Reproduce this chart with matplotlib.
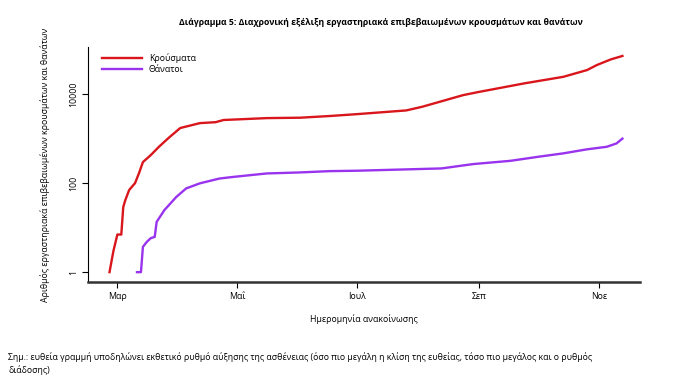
import matplotlib.pyplot as plt
import pandas as pd

# Κρούσματα (σωρευτικά)
cases_dates = ['2020-02-26', '2020-02-28', '2020-03-01', '2020-03-03', '2020-03-04',
               '2020-03-05', '2020-03-07', '2020-03-10', '2020-03-12', '2020-03-14',
               '2020-03-18', '2020-03-22', '2020-03-27', '2020-04-02', '2020-04-12',
               '2020-04-20', '2020-04-24', '2020-05-16', '2020-06-02', '2020-06-17',
               '2020-07-01', '2020-07-26', '2020-08-03', '2020-08-24', '2020-09-01',
               '2020-09-24', '2020-10-14', '2020-10-26', '2020-10-31', '2020-11-07',
               '2020-11-13']
cases = [1, 3, 7, 7, 29, 41, 70, 100, 167, 297, 426, 645, 1030, 1730, 2230,
         2340, 2620, 2890, 2950, 3220, 3550, 4300, 5180, 9500, 11200, 17400,
         24500, 34700, 45000, 60000, 72000]

# Θάνατοι (σωρευτικά)
deaths_dates = ['2020-03-11', '2020-03-13', '2020-03-14', '2020-03-16', '2020-03-18',
                '2020-03-20', '2020-03-21', '2020-03-25', '2020-03-31', '2020-04-05',
                '2020-04-12', '2020-04-22', '2020-04-29', '2020-05-16', '2020-06-02',
                '2020-06-17', '2020-07-01', '2020-08-13', '2020-08-29', '2020-09-17',
                '2020-10-01', '2020-10-14', '2020-10-26', '2020-11-05', '2020-11-10',
                '2020-11-13']
deaths = [1, 1, 3.7, 4.8, 5.8, 6.2, 13.5, 25, 49, 76, 99, 127, 138, 165, 174,
          186, 190, 214, 268, 317, 390, 467, 575, 655, 780, 1000]

plt.rcParams['font.family'] = ['Open Sans', 'DejaVu Sans']

fig = plt.figure(figsize=(6.92, 3.89), dpi=100)
ax = fig.add_axes([0.127, 0.275, 0.798, 0.604])

ax.plot(pd.to_datetime(cases_dates), cases, color='#d9161c', lw=1.7, label='Κρούσματα')
ax.plot(pd.to_datetime(deaths_dates), deaths, color='#9933ee', lw=1.7, label='Θάνατοι')

ax.set_yscale('log')
ax.set_ylim(0.6, 114000)
ax.set_yticks([1, 100, 10000])
ax.set_yticklabels(['1', '100', '10000'], rotation=90, va='center', fontsize=6.3)
ax.minorticks_off()
ax.set_xlim(pd.Timestamp('2020-02-15'), pd.Timestamp('2020-11-22'))
ax.set_xticks(pd.to_datetime(['2020-03-01', '2020-05-01', '2020-07-01',
                              '2020-09-01', '2020-11-01']))
ax.set_xticklabels(['Μαρ', 'Μαΐ', 'Ιουλ', 'Σεπ', 'Νοε'], fontsize=6.3)

for s in ['top', 'right']:
    ax.spines[s].set_visible(False)
ax.spines['bottom'].set_linewidth(1.8)
ax.spines['bottom'].set_color('#333333')
ax.spines['left'].set_linewidth(0.8)
ax.tick_params(length=4, width=0.8, pad=3)

ax.set_xlabel('Ημερομηνία ανακοίνωσης', fontsize=6.3, labelpad=10)
ax.set_ylabel('Αριθμός εργαστηριακά επιβεβαιωμένων κρουσμάτων και θανάτων',
              fontsize=6.3, labelpad=14)
ax.legend(loc='upper left', frameon=False, fontsize=6.3, handlelength=4.5,
          borderaxespad=0.3, labelspacing=0.2, bbox_to_anchor=(0.015, 1.0))

fig.text(0.55, 0.935, 'Διάγραμμα 5: Διαχρονική εξέλιξη εργαστηριακά επιβεβαιωμένων κρουσμάτων και θανάτων',
         ha='center', fontsize=6.2, fontweight='bold')
fig.text(0.012, 0.04, 'Σημ.: ευθεία γραμμή υποδηλώνει εκθετικό ρυθμό αύξησης της ασθένειας '
         '(όσο πιο μεγάλη η κλίση της ευθείας, τόσο πιο μεγάλος και ο ρυθμός\nδιάδοσης)',
         fontsize=6.3, linespacing=1.45)

fig.savefig('out.png', dpi=100)
